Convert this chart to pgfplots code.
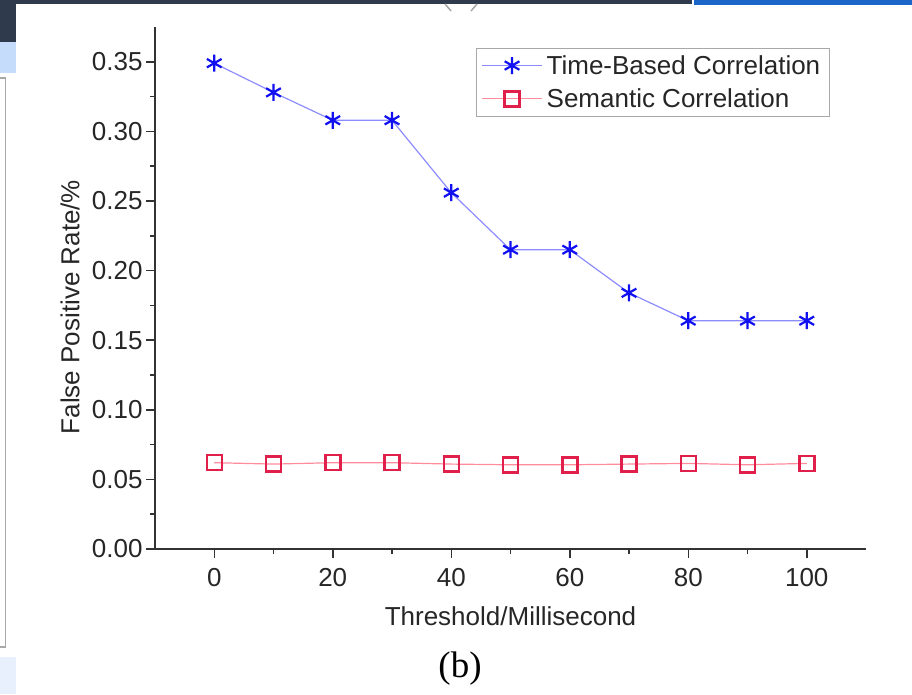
\documentclass[border=0pt]{standalone}
\usepackage{fontspec}
\setmainfont{Liberation Sans}
\newfontfamily\capfont{Liberation Serif}
\usepackage{pgfplots}
\pgfplotsset{compat=1.18}
\definecolor{topbar}{HTML}{2F3A4C}
\definecolor{blueimg}{HTML}{1B64C8}
\definecolor{lightstrip}{HTML}{C6DCFB}
\definecolor{lightstrip2}{HTML}{E8F0FD}
\definecolor{panelgray}{HTML}{A8A8A8}
\definecolor{axisgray}{HTML}{333333}
\definecolor{tbline}{HTML}{8C8CFF}
\definecolor{tbmark}{HTML}{1010F0}
\definecolor{semline}{HTML}{FF8C9C}
\definecolor{semmark}{HTML}{E0204A}

\begin{document}
\begin{tikzpicture}[x=1pt,y=1pt]
% screenshot surroundings
\path[use as bounding box] (0,0) rectangle (912,694);
\fill[topbar] (0,689.5) rectangle (692,694);
\fill[topbar] (0,652) rectangle (16,694);
\fill[blueimg] (694,689) rectangle (912,694);
\fill[lightstrip] (0,621) rectangle (16,652);
\fill[lightstrip2] (0,0) rectangle (16,37);
\draw[panelgray, line width=1.5pt] (-5,616) rectangle (5.5,47);
\draw[gray!70, line width=1.5pt] (445,690) -- (451,683);
\draw[gray!70, line width=1.5pt] (477,690) -- (471,683);
\node[font=\capfont\fontsize{37}{42}\selectfont] at (460,25) {(b)};

\begin{axis}[
    at={(155pt,145pt)}, anchor=south west,
    scale only axis, width=711pt, height=522pt,
    xmin=-10, xmax=110, ymin=0, ymax=0.375,
    xtick={0,20,...,100},
    ytick={0,0.05,...,0.35},
    minor x tick num=1, minor y tick num=1,
    axis x line=bottom, axis y line=left,
    axis line style={-, line width=1.5pt, axisgray},
    tick style={line width=1.5pt, axisgray},
    tick align=outside,
    major tick length=9pt, minor tick length=5pt,
    yticklabel style={/pgf/number format/.cd, fixed, fixed zerofill, precision=2},
    xticklabel style={yshift=-7pt},
    /pgf/number format/assume math mode=true,
    tick label style={font=\fontsize{26}{30}\selectfont, text=black!85},
    xlabel={Threshold/Millisecond},
    ylabel={False Positive Rate/\%},
    every axis x label/.style={at={(axis description cs:0.5,-0.128)}, anchor=center,
        font=\fontsize{26}{30}\selectfont, text=black!85},
    every axis y label/.style={at={(axis description cs:-0.1195,0.4636)}, rotate=90, anchor=center,
        font=\fontsize{26}{30}\selectfont, text=black!85},
    legend style={at={(0.949,0.96)}, anchor=north east, draw=panelgray, line width=1pt,
        fill=white, font=\fontsize{26}{30}\selectfont, inner xsep=5pt, inner ysep=5pt,
        row sep=9pt, nodes={inner xsep=4pt, inner ysep=2pt}, text=black!85},
    legend cell align=left,
    legend image code/.code={\draw[mark repeat=2, mark phase=2, #1]
        plot coordinates {(0pt,0pt) (30pt,0pt) (60pt,0pt)};},
    clip=false,
]
\addplot[tbline, line width=1.2pt, mark=asterisk, mark size=8.5pt,
    mark options={tbmark, line width=2.2pt}]
coordinates {(0,0.349) (10,0.328) (20,0.308) (30,0.308) (40,0.256) (50,0.215)
    (60,0.215) (70,0.184) (80,0.164) (90,0.164) (100,0.164)};
\addlegendentry{Time-Based Correlation}
\addplot[semline, line width=1.2pt, mark=square, mark size=7.5pt,
    mark options={semmark, line width=2.5pt}]
coordinates {(0,0.062) (10,0.061) (20,0.062) (30,0.062) (40,0.061) (50,0.0605)
    (60,0.0605) (70,0.061) (80,0.0615) (90,0.0605) (100,0.0615)};
\addlegendentry{Semantic Correlation}
\end{axis}
\end{tikzpicture}
\end{document}
